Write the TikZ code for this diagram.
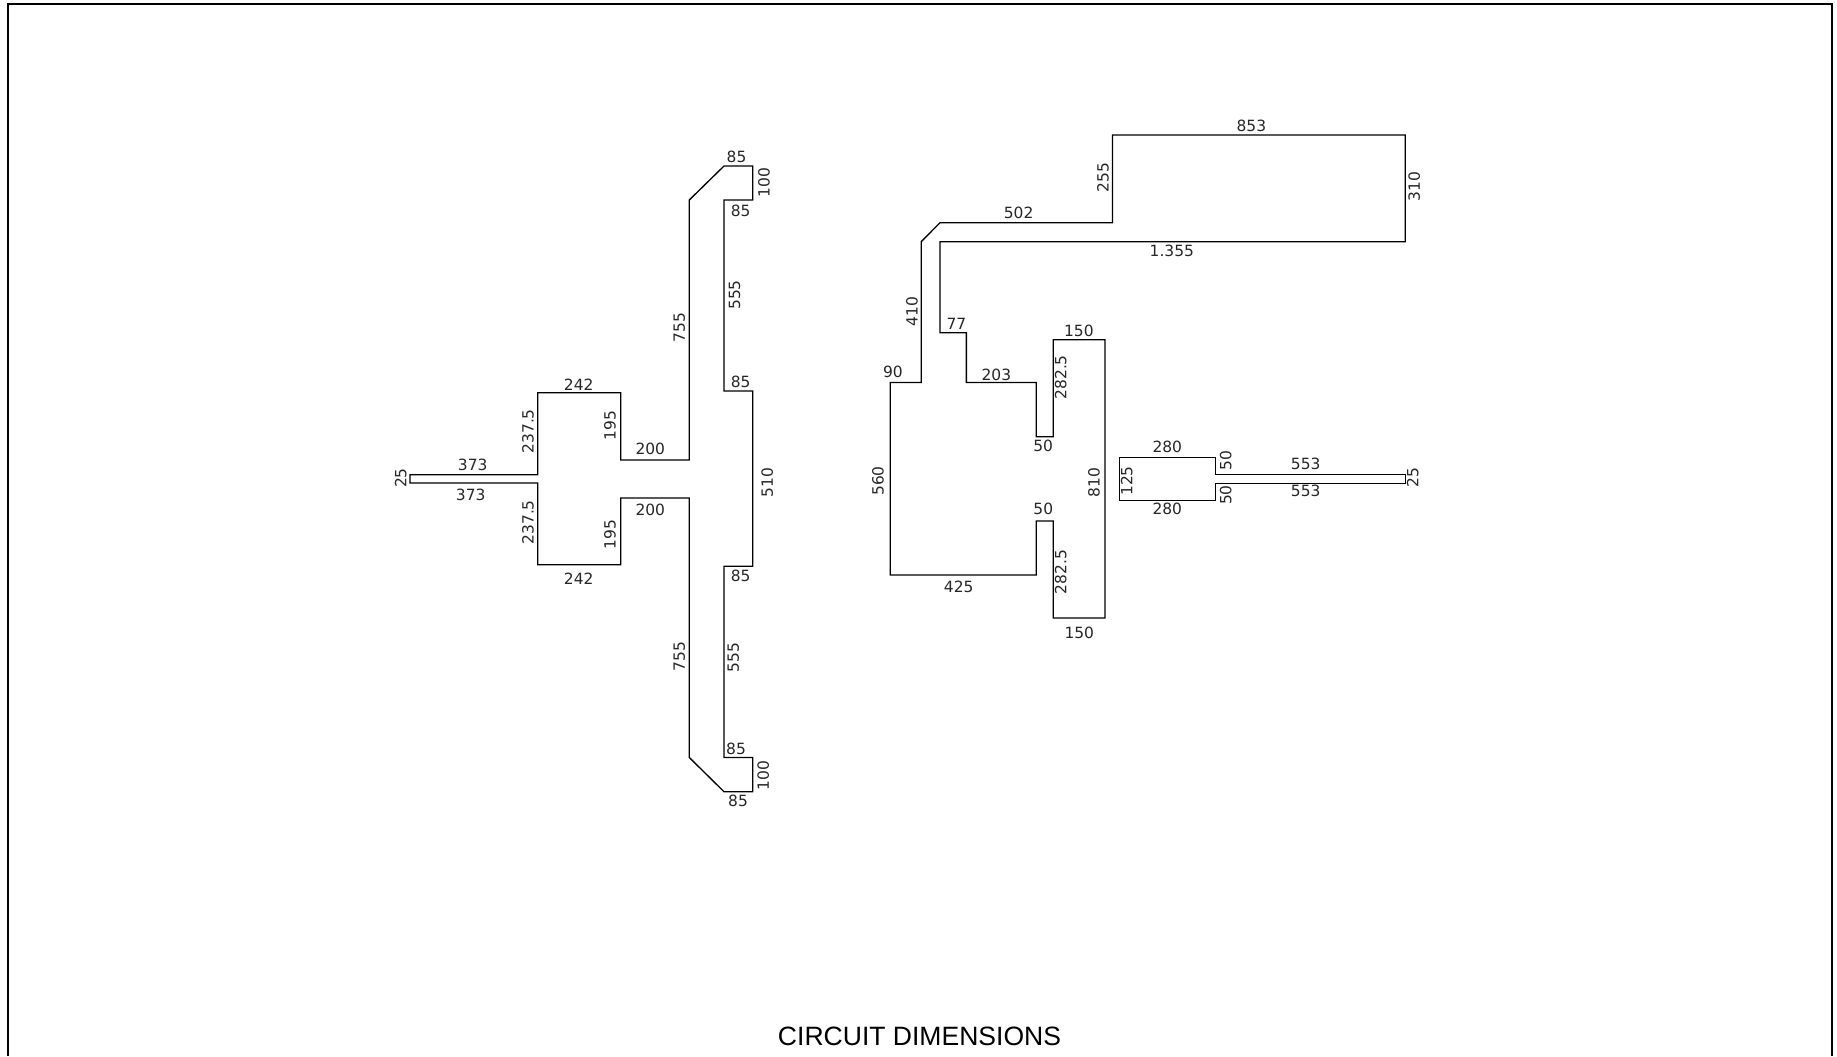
\documentclass[tikz,border=0pt]{standalone}
\usepackage{fontspec}
\setmainfont{DejaVu Sans}
\newfontfamily\titlefont{Liberation Sans}
\tikzset{
	trace/.style={line width=1pt,line join=miter,black},
	sheet/.style={line width=1.6pt,black},
	hdim/.style={inner sep=0pt,text=black!85,font=\fontsize{11.6}{12}\selectfont},
	vdim/.style={hdim,rotate=90},
	heading/.style={inner sep=0pt,font=\titlefont\fontsize{19.9}{22}\selectfont}
}

\begin{document}
\begin{tikzpicture}[x=0.75pt,y=-0.75pt]
		\useasboundingbox (0,0) rectangle (1837,1056);

		\draw[sheet] (8,1056) -- (8,4) -- (1832,4) -- (1832,1056);

		% left circuit
		\draw[trace]
			(724,166) -- (752.7,166) -- (752.7,200) -- (724,200) -- (724,391)
			-- (752.7,391) -- (752.7,566.3) -- (724,566.3) -- (724,757.5)
			-- (752.7,757.5) -- (752.7,791.7) -- (724,791.7) -- (689.3,757.5)
			-- (689.3,498) -- (620.7,498) -- (620.7,564.7) -- (537.7,564.7)
			-- (537.7,483) -- (410,483) -- (410,474.7) -- (537.7,474.7)
			-- (537.7,392.7) -- (620.7,392.7) -- (620.7,460) -- (689.3,460)
			-- (689.3,200) -- cycle;

		% right circuit
		\draw[trace]
			(1112.5,135) -- (1405.3,135) -- (1405.3,241.7) -- (940,241.7)
			-- (940,332.7) -- (966.4,332.7) -- (966.4,382.5) -- (1036.3,382.5)
			-- (1036.3,436.7) -- (1053.3,436.7) -- (1053.3,339.7) -- (1105,339.7)
			-- (1105,618) -- (1053.3,618) -- (1053.3,521) -- (1036.3,521)
			-- (1036.3,575) -- (890.3,575) -- (890.3,382.5) -- (921.2,382.5)
			-- (921.2,241.7) -- (940,222.7) -- (1112.5,222.7) -- cycle;

		% feed
		\draw[trace]
			(1119.3,457.7) -- (1215.3,457.7) -- (1215.3,474.7) -- (1405.3,474.7)
			-- (1405.3,483.3) -- (1215.3,483.3) -- (1215.3,500.3) -- (1119.3,500.3)
			-- cycle;

		% left circuit dimensions
		\draw
			node[hdim] (la1) at (736.5,156.7) {85}
			node[vdim] (la2) at (764,182.3)   {100}
			node[hdim] (la3) at (740.7,211)   {85}
			node[vdim] (la4) at (734.7,295)   {555}
			node[vdim] (la5) at (679.3,327.7) {755}
			node[hdim] (la6) at (740.7,382.3) {85}
			node[hdim] (la7) at (578.7,384.3) {242}
			node[vdim] (la8) at (528,431.3)   {237.5}
			node[vdim] (la9) at (610,425.3)   {195}
			node[hdim] (la10) at (650.3,449)  {200}
			node[hdim] (la11) at (472.7,465.3) {373}
			node[vdim] (lm1) at (400.7,478)   {25}
			node[vdim] (lm2) at (767.3,482.7) {510}
			node[hdim] (lb1) at (470.7,495)   {373}
			node[hdim] (lb2) at (650.3,510)   {200}
			node[vdim] (lb3) at (528,522.3)   {237.5}
			node[vdim] (lb4) at (610,534.3)   {195}
			node[hdim] (lb5) at (740.7,576.3) {85}
			node[hdim] (lb6) at (578.7,579)   {242}
			node[vdim] (lb7) at (679.3,656.7) {755}
			node[vdim] (lb8) at (733.3,657.7) {555}
			node[hdim] (lb9) at (736,748.7)   {85}
			node[vdim] (lb10) at (763.3,775.3) {100}
			node[hdim] (lb11) at (738,801.3)  {85}
		;

		% right circuit dimensions
		\draw
			node[hdim] (ra1) at (1251.4,126)   {853}
			node[vdim] (ra2) at (1102.9,177.3) {255}
			node[vdim] (ra3) at (1414.3,186.7) {310}
			node[hdim] (ra4) at (1018.6,213.3) {502}
			node[hdim] (ra5) at (1171.8,250.7) {1.355}
			node[vdim] (ra6) at (912.1,311.7)  {410}
			node[hdim] (ra7) at (956.4,323.7)  {77}
			node[hdim] (ra8) at (1078.9,330.7) {150}
			node[hdim] (ra9) at (892.9,371.7)  {90}
			node[hdim] (ra10) at (996.4,374.7) {203}
			node[vdim] (ra11) at (1060.7,377.3) {282.5}
			node[hdim] (ra12) at (1043.2,446.3) {50}
			node[vdim] (rb1) at (878,481)      {560}
			node[vdim] (rb2) at (1094,482.7)   {810}
			node[hdim] (rb3) at (1043.3,509.3) {50}
			node[vdim] (rb4) at (1060.7,572)   {282.5}
			node[hdim] (rb5) at (958.7,587.3)  {425}
			node[hdim] (rb6) at (1079.3,633)   {150}
		;

		% feed dimensions
		\draw
			node[hdim] (fa1) at (1167.3,446.7) {280}
			node[vdim] (fa2) at (1225.7,460.7) {50}
			node[hdim] (fa3) at (1305.7,464.3) {553}
			node[vdim] (fa4) at (1412.7,477.7) {25}
			node[vdim] (fa5) at (1126.7,481)   {125}
			node[hdim] (fa6) at (1305.7,491)   {553}
			node[vdim] (fa7) at (1225.7,495)   {50}
			node[hdim] (fa8) at (1167.3,508.7) {280}
		;

		\node[heading] (title) at (919.5,1036) {CIRCUIT DIMENSIONS};
	\end{tikzpicture}
\end{document}
